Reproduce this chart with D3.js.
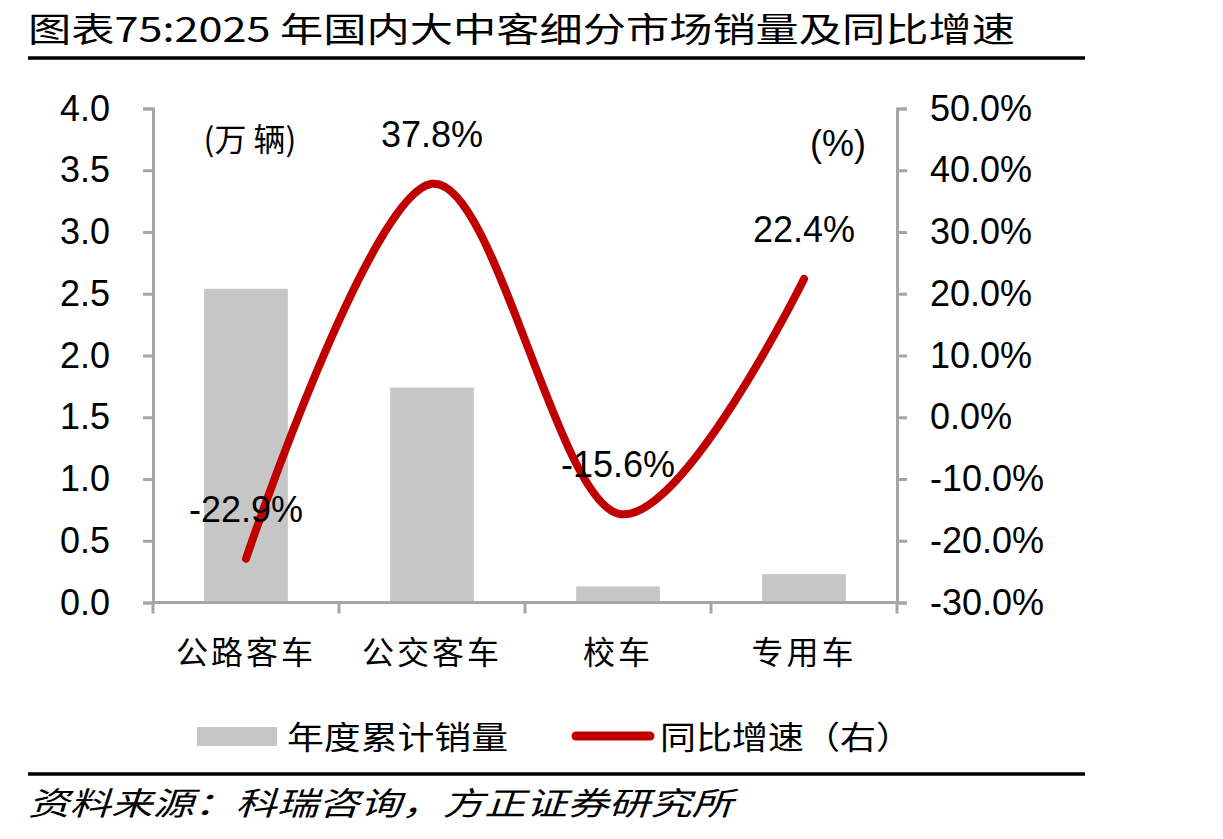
<!DOCTYPE html>
<html>
<head>
<meta charset="utf-8">
<script src="https://cdn.jsdelivr.net/npm/d3@7"></script>
<style>
  body { margin: 0; background: #fff; }
  svg text { font-family: "Liberation Sans", Arial, sans-serif; }
  .cjk { font-family: "Noto Sans CJK SC", sans-serif; }
</style>
</head>
<body>
<div id="chart"></div>
<script>
// data
const categories = ["公路客车", "公交客车", "校车", "专用车"];
const sales = [2.54, 1.74, 0.13, 0.23];          // 万辆
const growth = [-22.9, 37.8, -15.6, 22.4];        // %
const leftTicks = [0, 0.5, 1, 1.5, 2, 2.5, 3, 3.5, 4];
const rightTicks = [-30, -20, -10, 0, 10, 20, 30, 40, 50];

const W = 1223, H = 839;
const plot = { left: 153, right: 897, top: 108.5, bottom: 602.5 };
const axisColor = "#a6a6a6";

const svg = d3.select("#chart").append("svg")
  .attr("width", W).attr("height", H);

// ---- title
svg.append("text").attr("class", "cjk")
  .attr("x", 28).attr("y", 42)
  .attr("font-size", 34)
  .attr("textLength", 987).attr("lengthAdjust", "spacingAndGlyphs")
  .text("图表75:2025 年国内大中客细分市场销量及同比增速");
svg.append("line").attr("x1", 28).attr("x2", 1085).attr("y1", 58).attr("y2", 58)
  .attr("stroke", "#000").attr("stroke-width", 3.5);

// ---- scales
const x = d3.scaleBand().domain(categories)
  .range([plot.left, plot.right]).paddingInner(0.55).paddingOuter(0.275);
const yL = d3.scaleLinear().domain([0, 4]).range([plot.bottom, plot.top]);
const yR = d3.scaleLinear().domain([-30, 50]).range([plot.bottom, plot.top]);
const cx = d => x(d) + x.bandwidth() / 2;

// ---- bars
svg.append("g").selectAll("rect")
  .data(categories)
  .join("rect")
  .attr("x", d => x(d))
  .attr("width", x.bandwidth())
  .attr("y", (d, i) => yL(sales[i]))
  .attr("height", (d, i) => yL(0) - yL(sales[i]))
  .attr("fill", "#c6c6c6");

// ---- axes
const styleAxis = g => {
  g.select(".domain").attr("stroke", axisColor).attr("stroke-width", 3);
  g.selectAll(".tick line").attr("stroke", axisColor).attr("stroke-width", 3);
  g.selectAll(".tick text").attr("fill", "#000")
    .attr("font-family", "'Liberation Sans', Arial, sans-serif").attr("font-size", 36);
};

svg.append("g")
  .attr("transform", `translate(${plot.left},0)`)
  .call(d3.axisLeft(yL).tickValues(leftTicks).tickFormat(d3.format(".1f"))
    .tickSizeInner(10).tickSizeOuter(10).tickPadding(33))
  .call(styleAxis);

svg.append("g")
  .attr("transform", `translate(${plot.right},0)`)
  .call(d3.axisRight(yR).tickValues(rightTicks)
    .tickFormat(d => (d < 0 ? "-" : "") + Math.abs(d).toFixed(1) + "%")
    .tickSizeInner(10).tickSizeOuter(10).tickPadding(23))
  .call(styleAxis);

// x axis: ticks at band boundaries
const bounds = d3.range(categories.length + 1).map(i => plot.left + i * x.step());
const xg = svg.append("g");
xg.append("line").attr("x1", plot.left).attr("x2", plot.right)
  .attr("y1", plot.bottom).attr("y2", plot.bottom)
  .attr("stroke", axisColor).attr("stroke-width", 3);
xg.selectAll(".xt").data(bounds).join("line").attr("class", "xt")
  .attr("x1", d => d).attr("x2", d => d)
  .attr("y1", plot.bottom).attr("y2", plot.bottom + 11)
  .attr("stroke", axisColor).attr("stroke-width", 3);
xg.selectAll(".xl").data(categories).join("text").attr("class", "cjk xl")
  .attr("x", d => cx(d)).attr("y", 664)
  .attr("text-anchor", "middle").attr("font-size", 32)
  .attr("letter-spacing", 3)
  .text(d => d);

// ---- unit labels
svg.append("text").attr("class", "cjk").attr("x", 250).attr("y", 151)
  .attr("text-anchor", "middle").attr("font-size", 32).text("(万 辆)");
svg.append("text").attr("x", 838).attr("y", 156)
  .attr("text-anchor", "middle").attr("font-size", 36).text("(%)");

// ---- growth line
const line = d3.line()
  .x((d, i) => cx(categories[i]))
  .y(d => yR(d))
  .curve(d3.curveCardinal.tension(0));

svg.append("path")
  .datum(growth)
  .attr("d", line)
  .attr("fill", "none")
  .attr("stroke", "#c00000")
  .attr("stroke-width", 8)
  .attr("stroke-linecap", "round");

svg.append("g").selectAll("text")
  .data(growth)
  .join("text")
  .attr("x", (d, i) => cx(categories[i]))
  .attr("y", d => yR(d) - 37)
  .attr("text-anchor", "middle")
  .attr("font-size", 36)
  .text(d => d.toFixed(1) + "%");

// ---- legend
const lg = svg.append("g");
lg.append("rect").attr("x", 197).attr("y", 727).attr("width", 80).attr("height", 19).attr("fill", "#c6c6c6");
lg.append("text").attr("class", "cjk").attr("x", 287).attr("y", 749)
  .attr("font-size", 32).attr("textLength", 221).attr("lengthAdjust", "spacingAndGlyphs")
  .text("年度累计销量");
lg.append("line").attr("x1", 576).attr("x2", 650).attr("y1", 736).attr("y2", 736)
  .attr("stroke", "#c00000").attr("stroke-width", 9).attr("stroke-linecap", "round");
lg.append("text").attr("class", "cjk").attr("x", 660).attr("y", 749)
  .attr("font-size", 32).attr("textLength", 252).attr("lengthAdjust", "spacingAndGlyphs")
  .text("同比增速（右）");

// ---- footer
svg.append("line").attr("x1", 28).attr("x2", 1085).attr("y1", 774).attr("y2", 774)
  .attr("stroke", "#000").attr("stroke-width", 3.5);
svg.append("text").attr("class", "cjk").attr("x", 28).attr("y", 815)
  .attr("font-size", 32).attr("font-style", "italic")
  .attr("textLength", 705).attr("lengthAdjust", "spacingAndGlyphs")
  .text("资料来源：科瑞咨询，方正证券研究所");
</script>
</body>
</html>
